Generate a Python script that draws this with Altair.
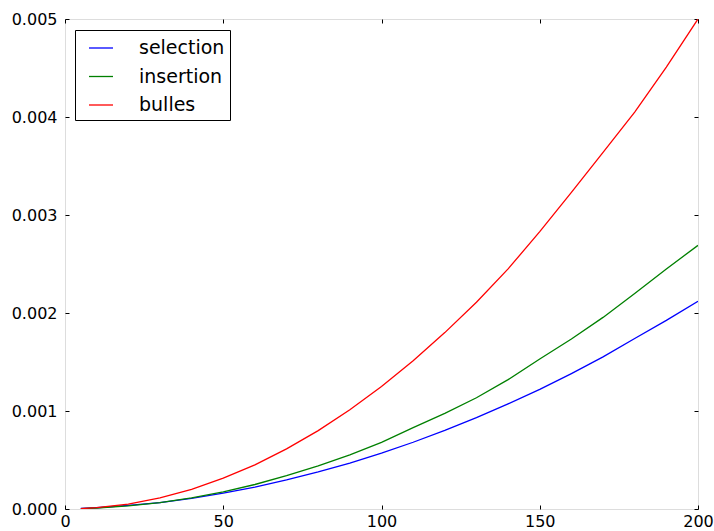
import altair as alt
import pandas as pd

# Array sizes (n) and measured sorting times in seconds
sizes = [5, 10, 20, 30, 40, 50, 60, 70, 80, 90, 100,
         110, 120, 130, 140, 150, 160, 170, 180, 190, 200]

selection = [0.000005, 0.000013, 0.000036, 0.000064, 0.000108, 0.000163,
             0.000224, 0.000296, 0.000378, 0.000469, 0.000570, 0.000681,
             0.000802, 0.000932, 0.001072, 0.001220, 0.001382, 0.001552,
             0.001740, 0.001925, 0.002120]

insertion = [0.000004, 0.000010, 0.000032, 0.000066, 0.000114, 0.000174,
             0.000250, 0.000340, 0.000440, 0.000552, 0.000680, 0.000830,
             0.000975, 0.001135, 0.001320, 0.001530, 0.001735, 0.001955,
             0.002200, 0.002450, 0.002690]

bulles = [0.000004, 0.000013, 0.000050, 0.000113, 0.000200, 0.000315,
          0.000450, 0.000613, 0.000800, 0.001013, 0.001250, 0.001512,
          0.001800, 0.002110, 0.002450, 0.002830, 0.003230, 0.003640,
          0.004050, 0.004510, 0.005000]

series_names = ["selection", "insertion", "bulles"]
series_colors = ["#0000ff", "#008000", "#ff0000"]

x_ticks = [0, 50, 100, 150, 200]
y_ticks = [0.000, 0.001, 0.002, 0.003, 0.004, 0.005]

rows = []
for name, vals in zip(series_names, [selection, insertion, bulles]):
    for n, t in zip(sizes, vals):
        rows.append({"n": n, "temps": t, "tri": name})
df = pd.DataFrame(rows)

FONT = "DejaVu Sans"
x_scale = alt.Scale(domain=[0, 200], nice=False, zero=False)
y_scale = alt.Scale(domain=[0, 0.005], nice=False)

# Curves with the labelled bottom/left axes and the legend
lines = alt.Chart(df).mark_line(strokeWidth=1.3, clip=True).encode(
    x=alt.X("n:Q", scale=x_scale, title=None,
            axis=alt.Axis(orient="bottom", values=x_ticks, ticks=False, tickSize=0,
                          domain=False, grid=False, labelPadding=4,
                          labelFont=FONT, labelFontSize=16, labelColor="black",
                          labelOverlap=False, labelFlush=False)),
    y=alt.Y("temps:Q", scale=y_scale, title=None,
            axis=alt.Axis(orient="left", values=y_ticks, format=".3f", ticks=False,
                          tickSize=0, domain=False, grid=False, labelPadding=8,
                          labelFont=FONT, labelFontSize=16, labelColor="black",
                          labelOverlap=False, labelFlush=False)),
    color=alt.Color("tri:N",
                    scale=alt.Scale(domain=series_names, range=series_colors),
                    legend=alt.Legend(title=None, orient="none", legendX=10, legendY=11,
                                      symbolType="stroke", symbolSize=576,
                                      symbolStrokeWidth=1.3, symbolOffset=8,
                                      labelOffset=25, labelFont=FONT, labelFontSize=19,
                                      labelColor="black", strokeColor="black",
                                      fillColor="white", padding=5, rowPadding=5.5,
                                      cornerRadius=0)),
)


def tick_layer(x_orient, y_orient):
    # Invisible marks that only carry inward-pointing tick axes
    return alt.Chart(df).mark_point(opacity=0).encode(
        x=alt.X("n:Q", scale=x_scale, title=None,
                axis=alt.Axis(orient=x_orient, values=x_ticks, offset=-4, tickSize=4,
                              tickColor="black", tickWidth=1, labels=False,
                              domain=False, grid=False)),
        y=alt.Y("temps:Q", scale=y_scale, title=None,
                axis=alt.Axis(orient=y_orient, values=y_ticks, offset=-4, tickSize=4,
                              tickColor="black", tickWidth=1, labels=False,
                              domain=False, grid=False)),
    )


chart = alt.layer(
    lines, tick_layer("bottom", "left"), tick_layer("top", "right")
).resolve_axis(
    x="independent", y="independent"
).properties(
    width=633, height=490,
    padding={"left": 65, "top": 19, "right": 16, "bottom": 22},
    autosize=alt.AutoSizeParams(type="none"),
).configure_view(
    stroke="black", strokeWidth=1
).configure(background="white")

chart.save("out.html", embed_options={"renderer": "svg", "actions": False})
